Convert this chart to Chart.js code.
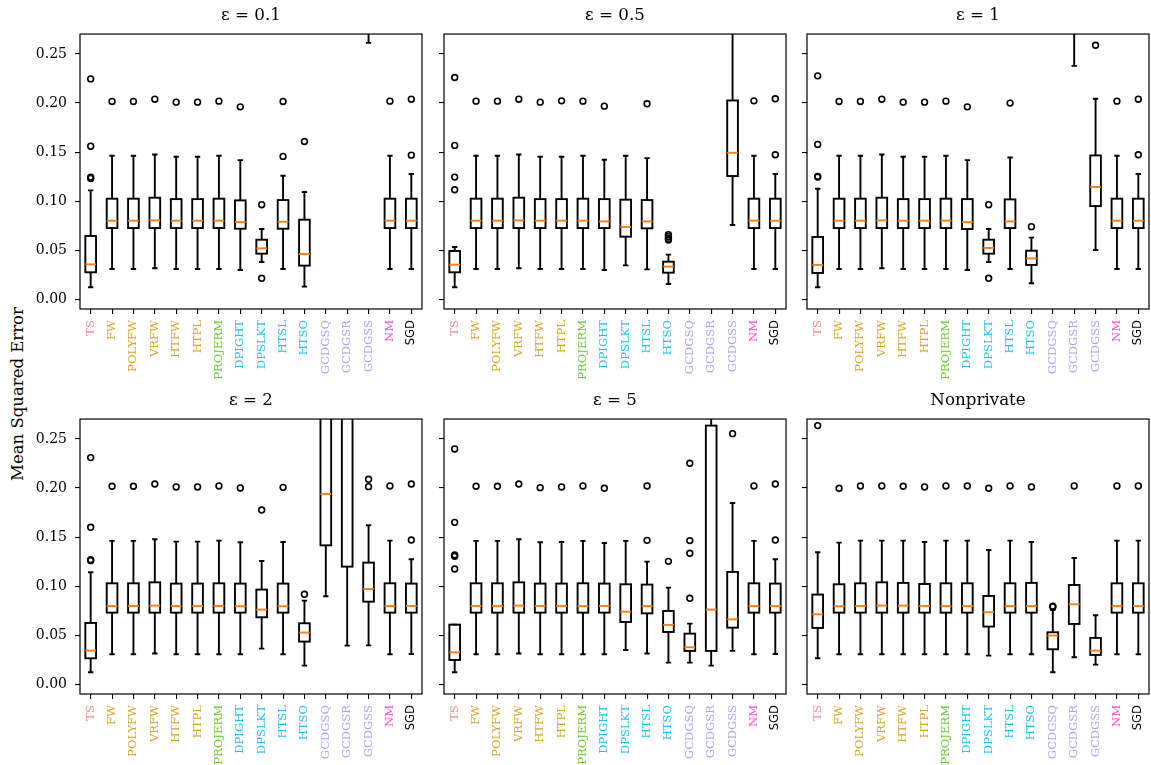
<!DOCTYPE html>
<html>
<head>
<meta charset="utf-8">
<script src="https://cdn.jsdelivr.net/npm/chart.js@4.4.1/dist/chart.umd.min.js"></script>
<style>
  body { margin: 0; background: #fff; }
  #fig { position: relative; width: 1151px; height: 765px; overflow: hidden; background: #fff; }
  #fig canvas { position: absolute; }
  #ylab {
    position: absolute; left: -132px; top: 384px; width: 300px; height: 20px;
    line-height: 20px; text-align: center; font: 16.5px 'DejaVu Serif', serif;
    color: #000; transform: rotate(-90deg);
  }
</style>
</head>
<body>
<div id="fig"><div id="ylab">Mean Squared Error</div></div>
<script>
const categories = ['TS', 'FW', 'POLYFW', 'VRFW', 'HTFW', 'HTPL', 'PROJERM', 'DPIGHT',
  'DPSLKT', 'HTSL', 'HTSO', 'GCDGSQ', 'GCDGSR', 'GCDGSS', 'NM', 'SGD'];
const labelColors = ['#f88a8a', '#d4a520', '#d4a520', '#d4a520', '#d4a520', '#d4a520', '#66cc2e', '#1cc2f2',
  '#1cc2f2', '#1cc2f2', '#1cc2f2', '#aaa0ff', '#aaa0ff', '#aaa0ff', '#ff4fd0', '#000000'];
const panelTitles = ['ε = 0.1', 'ε = 0.5', 'ε = 1', 'ε = 2', 'ε = 5', 'Nonprivate'];
const yTicks = [0, 0.05, 0.10, 0.15, 0.20, 0.25];

// each row: [lower whisker, Q1, median, Q3, upper whisker]
const boxEps01 = [
  [0.0122, 0.0275, 0.0356, 0.0645, 0.1110], [0.0309, 0.0726, 0.0801, 0.1025, 0.1463],
  [0.0309, 0.0726, 0.0801, 0.1025, 0.1463], [0.0316, 0.0726, 0.0804, 0.1035, 0.1476],
  [0.0309, 0.0726, 0.0801, 0.1021, 0.1452], [0.0309, 0.0726, 0.0801, 0.1021, 0.1452],
  [0.0309, 0.0726, 0.0801, 0.1025, 0.1463], [0.0299, 0.0719, 0.0787, 0.1008, 0.1418],
  [0.0380, 0.0465, 0.0519, 0.0607, 0.0716], [0.0309, 0.0719, 0.0790, 0.1011, 0.1259],
  [0.0129, 0.0343, 0.0461, 0.0811, 0.1093], [0.4200, 0.5500, 0.6200, 0.7000, 0.8800],
  [0.3800, 0.5000, 0.5800, 0.6600, 0.8400], [0.2613, 0.3300, 0.3800, 0.4500, 0.6000],
  [0.0309, 0.0726, 0.0801, 0.1025, 0.1463], [0.0309, 0.0726, 0.0801, 0.1025, 0.1276]
];
const outEps01 = [[0.1232, 0.1245, 0.1560, 0.2246], [0.2016], [0.2016], [0.2039], [0.2009], [0.2009],
  [0.2019], [0.1961], [0.0214, 0.0964], [0.1456, 0.2016], [0.1608], [], [], [], [0.2019], [0.1469, 0.2039]];

const boxEps05 = [
  [0.0122, 0.0275, 0.0353, 0.0492, 0.0533], [0.0309, 0.0726, 0.0801, 0.1025, 0.1463],
  [0.0309, 0.0726, 0.0801, 0.1025, 0.1463], [0.0316, 0.0726, 0.0804, 0.1035, 0.1476],
  [0.0309, 0.0726, 0.0801, 0.1021, 0.1452], [0.0309, 0.0726, 0.0801, 0.1021, 0.1452],
  [0.0309, 0.0726, 0.0801, 0.1025, 0.1463], [0.0299, 0.0726, 0.0794, 0.1021, 0.1422],
  [0.0346, 0.0638, 0.0736, 0.1015, 0.1463], [0.0305, 0.0723, 0.0794, 0.1011, 0.1439],
  [0.0156, 0.0271, 0.0333, 0.0383, 0.0455], [0.4500, 0.6000, 0.7000, 0.8000, 1.0000],
  [0.4000, 0.5500, 0.6500, 0.7500, 0.9500], [0.0757, 0.1256, 0.1493, 0.2026, 0.2900],
  [0.0309, 0.0726, 0.0801, 0.1025, 0.1463], [0.0309, 0.0726, 0.0801, 0.1025, 0.1276]
];
const outEps05 = [[0.1116, 0.1245, 0.1568, 0.2260], [0.2019], [0.2019], [0.2039], [0.2009], [0.2022],
  [0.2019], [0.1968], [], [0.1992], [0.0604, 0.0618, 0.0638, 0.0658], [], [], [], [0.2022], [0.1473, 0.2043]];

const boxEps1 = [
  [0.0122, 0.0268, 0.0350, 0.0635, 0.1127], [0.0309, 0.0726, 0.0801, 0.1025, 0.1463],
  [0.0309, 0.0726, 0.0801, 0.1025, 0.1463], [0.0316, 0.0726, 0.0804, 0.1035, 0.1476],
  [0.0309, 0.0726, 0.0801, 0.1021, 0.1452], [0.0309, 0.0726, 0.0801, 0.1021, 0.1452],
  [0.0309, 0.0726, 0.0801, 0.1025, 0.1463], [0.0299, 0.0716, 0.0787, 0.1021, 0.1418],
  [0.0380, 0.0465, 0.0523, 0.0607, 0.0716], [0.0309, 0.0726, 0.0794, 0.1018, 0.1445],
  [0.0163, 0.0350, 0.0417, 0.0495, 0.0628], [0.4000, 0.5200, 0.6000, 0.7000, 0.8500],
  [0.2379, 0.3100, 0.3600, 0.4200, 0.5500], [0.0502, 0.0950, 0.1144, 0.1466, 0.2043],
  [0.0309, 0.0726, 0.0801, 0.1025, 0.1463], [0.0309, 0.0726, 0.0801, 0.1025, 0.1276]
];
const outEps1 = [[0.1246, 0.1253, 0.1578, 0.2277], [0.2016], [0.2016], [0.2039], [0.2009], [0.2009],
  [0.2019], [0.1961], [0.0214, 0.0964], [0.1999], [0.0740], [], [], [0.2589], [0.2019], [0.1473, 0.2039]];

const boxEps2 = [
  [0.0122, 0.0265, 0.0343, 0.0625, 0.1141], [0.0306, 0.0730, 0.0798, 0.1029, 0.1461],
  [0.0306, 0.0730, 0.0798, 0.1029, 0.1461], [0.0313, 0.0730, 0.0802, 0.1039, 0.1478],
  [0.0306, 0.0730, 0.0798, 0.1026, 0.1454], [0.0306, 0.0730, 0.0798, 0.1026, 0.1454],
  [0.0306, 0.0730, 0.0798, 0.1029, 0.1464], [0.0306, 0.0730, 0.0795, 0.1026, 0.1447],
  [0.0363, 0.0683, 0.0761, 0.0965, 0.1257], [0.0306, 0.0730, 0.0795, 0.1026, 0.1450],
  [0.0190, 0.0435, 0.0527, 0.0622, 0.0853], [0.0897, 0.1416, 0.1940, 0.3100, 0.4500],
  [0.0394, 0.1199, 0.2900, 0.4000, 0.6000], [0.0397, 0.0842, 0.0971, 0.1240, 0.1620],
  [0.0306, 0.0730, 0.0798, 0.1029, 0.1464], [0.0309, 0.0730, 0.0798, 0.1026, 0.1274]
];
const outEps2 = [[0.1260, 0.1270, 0.1600, 0.2310], [0.2018], [0.2018], [0.2041], [0.2011], [0.2011],
  [0.2021], [0.2001], [0.1776], [0.2007], [0.0917], [], [], [0.2014, 0.2089], [0.2021], [0.1470, 0.2041]];

const boxEps5 = [
  [0.0122, 0.0248, 0.0326, 0.0608, 0.0608], [0.0306, 0.0730, 0.0798, 0.1029, 0.1461],
  [0.0306, 0.0730, 0.0798, 0.1029, 0.1461], [0.0313, 0.0730, 0.0802, 0.1039, 0.1478],
  [0.0306, 0.0730, 0.0798, 0.1026, 0.1447], [0.0306, 0.0730, 0.0798, 0.1026, 0.1450],
  [0.0306, 0.0730, 0.0798, 0.1029, 0.1461], [0.0306, 0.0730, 0.0798, 0.1026, 0.1440],
  [0.0350, 0.0635, 0.0740, 0.1019, 0.1461], [0.0313, 0.0723, 0.0798, 0.1016, 0.1250],
  [0.0221, 0.0533, 0.0605, 0.0747, 0.0985], [0.0221, 0.0340, 0.0377, 0.0516, 0.0618],
  [0.0190, 0.0340, 0.0761, 0.2636, 0.3300], [0.0340, 0.0577, 0.0662, 0.1145, 0.1848],
  [0.0306, 0.0730, 0.0798, 0.1029, 0.1461], [0.0309, 0.0730, 0.0798, 0.1026, 0.1274]
];
const outEps5 = [[0.1175, 0.1304, 0.1318, 0.1650, 0.2398], [0.2018], [0.2018], [0.2041], [0.2004], [0.2011],
  [0.2021], [0.1997], [], [0.1467, 0.2021], [0.1253], [0.0876, 0.1335, 0.1464, 0.2252], [], [0.2554],
  [0.2021], [0.1470, 0.2041]];

const boxNonpriv = [
  [0.0265, 0.0574, 0.0713, 0.0914, 0.1345], [0.0306, 0.0730, 0.0795, 0.1019, 0.1444],
  [0.0306, 0.0730, 0.0798, 0.1029, 0.1464], [0.0306, 0.0730, 0.0802, 0.1039, 0.1464],
  [0.0306, 0.0730, 0.0802, 0.1033, 0.1464], [0.0306, 0.0730, 0.0798, 0.1022, 0.1450],
  [0.0306, 0.0730, 0.0798, 0.1029, 0.1464], [0.0306, 0.0730, 0.0798, 0.1029, 0.1464],
  [0.0292, 0.0588, 0.0734, 0.0900, 0.1369], [0.0306, 0.0730, 0.0798, 0.1029, 0.1464],
  [0.0306, 0.0730, 0.0798, 0.1033, 0.1450], [0.0122, 0.0357, 0.0496, 0.0530, 0.0757],
  [0.0275, 0.0615, 0.0815, 0.1012, 0.1287], [0.0200, 0.0299, 0.0343, 0.0472, 0.0703],
  [0.0306, 0.0730, 0.0798, 0.1029, 0.1464], [0.0306, 0.0730, 0.0798, 0.1029, 0.1464]
];
const outNonpriv = [[0.2636], [0.1997], [0.2021], [0.2021], [0.2018], [0.2011], [0.2021], [0.2021],
  [0.1997], [0.2021], [0.2011], [0.0788, 0.0795], [0.2021], [], [0.2021], [0.2021]];

const panels = [
  { title: panelTitles[0], boxes: boxEps01, fliers: outEps01 },
  { title: panelTitles[1], boxes: boxEps05, fliers: outEps05 },
  { title: panelTitles[2], boxes: boxEps1, fliers: outEps1 },
  { title: panelTitles[3], boxes: boxEps2, fliers: outEps2 },
  { title: panelTitles[4], boxes: boxEps5, fliers: outEps5 },
  { title: panelTitles[5], boxes: boxNonpriv, fliers: outNonpriv }
];

// layout (px)
const colLeft = [80, 444, 807];
const rowTop = [34, 419];
const plotW = 342, plotH = 275, titleH = 34, xAxisH = 72, padRight = 16;

function makeBoxPlugin(boxes) {
  return {
    id: 'boxPlot',
    beforeDatasetsDraw(chart) {
      const { ctx, chartArea: a, scales: { x, y } } = chart;
      const half = x.getPixelForValue(1.25) - x.getPixelForValue(1);
      ctx.save();
      ctx.beginPath();
      ctx.rect(a.left, a.top, a.right - a.left, a.bottom - a.top);
      ctx.clip();
      ctx.lineWidth = 1.9;
      boxes.forEach((b, i) => {
        const cx = x.getPixelForValue(i + 1);
        const [lo, q1, med, q3, hi] = b.map(v => y.getPixelForValue(v));
        ctx.strokeStyle = '#000';
        ctx.beginPath();
        ctx.moveTo(cx, q1); ctx.lineTo(cx, lo);
        ctx.moveTo(cx, q3); ctx.lineTo(cx, hi);
        ctx.moveTo(cx - half / 2, lo); ctx.lineTo(cx + half / 2, lo);
        ctx.moveTo(cx - half / 2, hi); ctx.lineTo(cx + half / 2, hi);
        ctx.stroke();
        ctx.strokeRect(cx - half, q3, 2 * half, q1 - q3);
        ctx.strokeStyle = '#ff7f0e';
        ctx.beginPath();
        ctx.moveTo(cx - half, med); ctx.lineTo(cx + half, med);
        ctx.stroke();
      });
      ctx.restore();
    },
    afterDraw(chart) {
      const { ctx, chartArea: a } = chart;
      ctx.save();
      ctx.strokeStyle = '#000';
      ctx.lineWidth = 1.2;
      ctx.strokeRect(a.left, a.top, a.right - a.left, a.bottom - a.top);
      ctx.restore();
    }
  };
}

const fig = document.getElementById('fig');

panels.forEach((p, k) => {
  const col = k % 3, row = Math.floor(k / 3);
  const yW = col === 0 ? 80 : 12;
  const canvas = document.createElement('canvas');
  canvas.width = yW + plotW + padRight;
  canvas.height = titleH + plotH + xAxisH;
  canvas.style.left = (colLeft[col] - yW) + 'px';
  canvas.style.top = (rowTop[row] - titleH) + 'px';
  fig.appendChild(canvas);

  const pts = p.fliers.flatMap((vals, i) => vals.map(v => ({ x: i + 1, y: v })));

  new Chart(canvas, {
    type: 'scatter',
    data: {
      datasets: [{
        data: pts,
        pointStyle: 'circle',
        pointRadius: 2.9,
        pointHoverRadius: 2.9,
        borderWidth: 1.6,
        borderColor: '#000',
        backgroundColor: 'rgba(0,0,0,0)'
      }]
    },
    options: {
      responsive: false,
      animation: false,
      events: [],
      layout: { padding: { top: 0, right: padRight, bottom: 0, left: 0 } },
      plugins: {
        legend: { display: false },
        tooltip: { enabled: false },
        title: {
          display: true,
          text: p.title,
          fullSize: false,
          color: '#000',
          font: { family: 'DejaVu Serif', size: 16.7, weight: 'normal' },
          padding: { top: 6, bottom: 8 }
        }
      },
      scales: {
        x: {
          type: 'linear',
          min: 0.5,
          max: 16.5,
          afterBuildTicks: s => { s.ticks = categories.map((c, i) => ({ value: i + 1 })); },
          afterFit: s => { s.height = xAxisH; },
          ticks: {
            autoSkip: false,
            minRotation: 90,
            maxRotation: 90,
            padding: 6,
            callback: (v, i) => categories[i],
            color: c => labelColors[c.index],
            font: c => ({ family: categories[c.index] === 'SGD' ? 'DejaVu Sans' : 'DejaVu Serif', size: 11.6 })
          },
          grid: { drawOnChartArea: false, drawTicks: true, tickLength: 5, color: '#000', lineWidth: 1.1 },
          border: { display: false }
        },
        y: {
          min: -0.0099,
          max: 0.2703,
          afterBuildTicks: s => { s.ticks = yTicks.map(v => ({ value: v })); },
          afterFit: s => { s.width = yW; },
          ticks: {
            display: col === 0,
            padding: 8,
            color: '#000',
            font: { family: 'DejaVu Serif', size: 14 },
            callback: v => v.toFixed(2)
          },
          grid: { drawOnChartArea: false, drawTicks: true, tickLength: 5, color: '#000', lineWidth: 1.1 },
          border: { display: false }
        }
      }
    },
    plugins: [makeBoxPlugin(p.boxes)]
  });
});
</script>
</body>
</html>
